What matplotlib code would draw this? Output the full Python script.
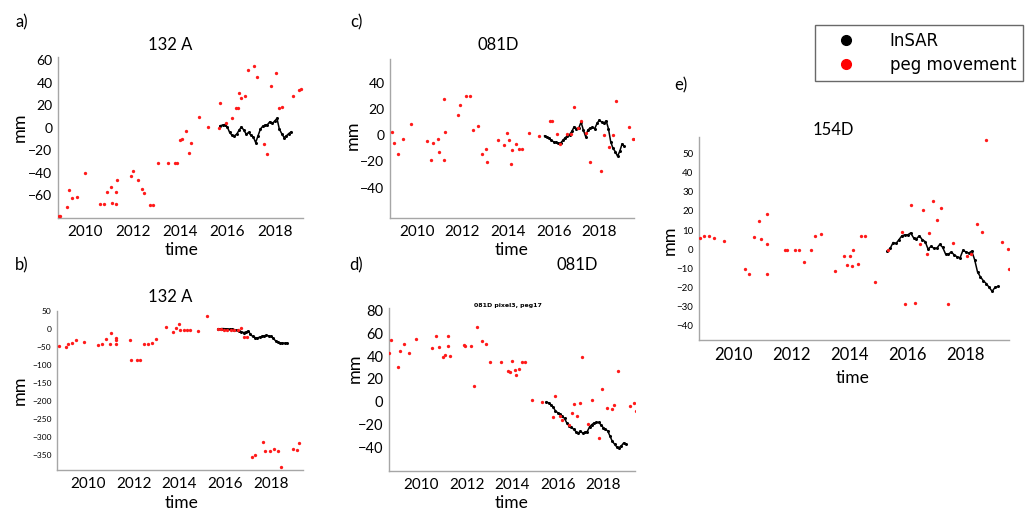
import numpy as np
import matplotlib
matplotlib.use("Agg")
import matplotlib.pyplot as plt
from matplotlib.lines import Line2D

plt.rcParams['font.family'] = ['Lato', 'DejaVu Sans']

# ---------------- data ----------------
# a) 132 A
a_peg_t = [2008.89, 2008.93, 2009.24, 2009.33, 2009.46, 2009.65, 2009.99, 2010.63, 2010.79,
           2010.90, 2011.08, 2011.15, 2011.32, 2011.32, 2011.36, 2011.94, 2012.01, 2012.22,
           2012.39, 2012.49, 2012.74, 2012.86, 2013.06, 2013.51, 2013.79, 2013.88, 2013.99,
           2014.10, 2014.24, 2014.38, 2014.47, 2014.79, 2015.18, 2015.67, 2015.71, 2015.94,
           2016.22, 2016.35, 2016.46, 2016.50, 2016.60, 2016.76, 2016.88, 2017.15, 2017.25,
           2017.54, 2017.68, 2017.85, 2018.06, 2018.19, 2018.31, 2018.79, 2019.03, 2019.10]
a_peg_mm = [-78.0, -78.0, -70.5, -55.0, -62.5, -61.5, -40.0, -68.0, -67.5, -56.5, -52.5, -66.5,
            -57.0, -67.5, -46.5, -42.5, -38.5, -46.5, -54.5, -58.0, -68.5, -68.5, -31.5, -31.5,
            -31.5, -31.5, -11.0, -10.0, -3.0, -22.0, -13.0, 10.0, 1.0, 0.0, 22.0, 4.0, 9.0,
            17.5, 17.5, 31.0, 26.5, 28.0, 51.5, 55.0, 45.0, -14.0, -23.0, 37.0, 49.0, 17.5,
            18.5, 28.0, 33.5, 34.5]
a_insar_mm = [2.0, 2.5, 3.0, 1.0, -4.0, -6.5, -7.0, -5.5, -2.0, 1.0, -2.0, -5.5, -4.0, -6.5,
              -8.0, -13.0, -7.0, -1.0, 1.5, 2.5, 3.0, 5.5, 4.0, 6.0, 8.5, -1.0, -5.0, -8.5,
              -7.0, -5.0, -3.5]
a_insar_t0 = 2015.7

# b) 132 A
b_peg_t = [2008.74, 2009.03, 2009.13, 2009.29, 2009.49, 2009.81, 2010.46, 2010.63, 2010.77,
           2010.96, 2011.03, 2011.21, 2011.21, 2011.24, 2011.84, 2011.89, 2012.14, 2012.29,
           2012.43, 2012.64, 2012.79, 2012.96, 2013.43, 2013.74, 2013.83, 2013.96, 2014.03,
           2014.21, 2014.34, 2014.46, 2014.79, 2015.20, 2015.67, 2015.80, 2015.95, 2016.10,
           2016.25, 2016.40, 2016.55, 2016.67, 2016.83, 2016.96, 2017.17, 2017.31, 2017.64,
           2017.74, 2017.96, 2018.14, 2018.29, 2018.43, 2018.96, 2019.14, 2019.21]
b_peg_mm = [-48, -51, -43, -39, -31, -36, -45, -41, -28, -41, -11, -41, -31, -25, -32, -87, -87,
            -87, -43, -41, -39, -29, 5, -9, 3, 14, -2, -2, -2, -2, -5, 35, -1, -1, -2, -2, -2,
            -2, -2, 3, -23, -23, -356, -351, -314, -339, -341, -334, -341, -385, -334, -336,
            -317]
b_insar_mm = [0.0, 0.5, 1.0, 0.5, 0.0, -1.0, 0.0, -2.0, -3.0, -5.0, -8.0, -10.0, -9.0, -6.0,
              -14.0, -21.0, -24.0, -25.0, -23.0, -21.0, -19.0, -18.0, -19.0, -21.0, -26.0,
              -33.0, -37.0, -39.0, -39.0, -40.0, -39.0]
b_insar_t0 = 2015.7

# c) 081D
c_peg_t = [2008.91, 2009.02, 2009.20, 2009.39, 2009.74, 2010.44, 2010.61, 2010.73, 2010.92,
           2010.99, 2011.20, 2011.20, 2011.24, 2011.82, 2011.90, 2012.16, 2012.34, 2012.45,
           2012.70, 2012.85, 2013.02, 2013.07, 2013.55, 2013.82, 2013.94, 2014.06, 2014.12,
           2014.19, 2014.34, 2014.47, 2014.60, 2014.93, 2015.34, 2015.84, 2015.93, 2016.16,
           2016.28, 2016.60, 2016.74, 2016.89, 2017.05, 2017.18, 2017.42, 2017.59, 2018.06,
           2018.20, 2018.44, 2018.58, 2018.73, 2019.28, 2019.49, 2019.55]
c_peg_mm = [2.3, -6.1, -14.1, -2.8, 8.6, -4.3, -19.2, -5.6, -2.8, -13.1, 27.3, -19.2, 2.8,
            15.4, 23.0, 29.8, 29.8, 4.0, 7.1, -14.1, -10.4, -20.5, -4.0, -7.8, 2.0, -3.5,
            -21.7, -11.6, -6.8, -10.4, -10.4, 1.5, -0.5, 11.1, 10.9, 1.0, -6.8, 1.0, 1.0, 21.2,
            5.3, 10.9, 1.5, -20.5, -27.5, 0.3, -9.1, 0.3, 26.0, 6.1, -3.0, -3.0]
c_insar_mm = [-0.5, -1.5, -2.5, -4.0, -5.0, -5.5, -6.0, -6.0, -4.0, -2.0, -0.5, 0.5, 3.0, 6.5,
              5.0, 5.5, 10.0, 4.0, -1.0, 4.0, 5.5, 6.0, 5.0, 9.0, 11.5, 10.0, 9.0, 11.0, 5.0,
              -5.0, -10.0, -12.5, -16.0, -12.0, -6.5, -8.5]
c_insar_t0 = 2015.6

# d) 081D pixel3, peg17
d_peg_t = [2008.58, 2008.68, 2008.97, 2009.07, 2009.24, 2009.44, 2009.78, 2010.46, 2010.65,
           2010.76, 2010.95, 2011.03, 2011.19, 2011.19, 2011.25, 2011.86, 2011.91, 2012.17,
           2012.31, 2012.47, 2012.69, 2012.83, 2013.04, 2013.49, 2013.82, 2013.89, 2014.01,
           2014.13, 2014.16, 2014.30, 2014.42, 2014.55, 2014.88, 2015.29, 2015.80, 2015.89,
           2016.12, 2016.21, 2016.51, 2016.65, 2016.71, 2016.83, 2016.98, 2017.09, 2017.34,
           2017.53, 2017.83, 2017.97, 2018.15, 2018.37, 2018.49, 2018.66, 2019.18, 2019.37,
           2019.44]
d_peg_mm = [43.0, 53.6, 30.7, 44.5, 50.3, 42.4, 54.7, 46.8, 57.7, 48.3, 38.9, 41.0, 57.7, 48.9,
            39.8, 49.8, 49.2, 48.9, 14.0, 65.3, 53.3, 50.3, 34.8, 34.5, 27.2, 25.8, 35.4, 27.5,
            23.7, 28.7, 34.5, 34.5, 1.2, -0.3, -13.2, 5.3, -12.3, -16.1, -20.5, -9.4, -1.8,
            -12.3, -0.9, 39.2, -19.0, 2.0, -31.3, 11.1, -5.3, -6.4, -2.9, 27.2, -3.5, -0.9,
            -7.9]
d_insar_mm = [0.0, -1.0, -2.5, -4.5, -8.0, -9.5, -10.5, -12.5, -14.5, -18.5, -21.0, -22.0,
              -24.0, -26.0, -27.5, -25.5, -27.5, -26.5, -26.0, -22.0, -20.0, -18.5, -18.0,
              -18.0, -20.0, -22.5, -24.0, -25.5, -30.0, -34.5, -37.0, -39.5, -40.0, -38.5,
              -36.0, -37.0]
d_insar_t0 = 2015.5

# e) 154D
e_peg_t = [2008.88, 2008.99, 2009.16, 2009.35, 2009.69, 2010.40, 2010.55, 2010.71, 2010.88,
           2010.95, 2011.15, 2011.17, 2011.18, 2011.80, 2011.86, 2012.12, 2012.27, 2012.43,
           2012.67, 2012.81, 2013.01, 2013.50, 2013.81, 2013.90, 2014.01, 2014.09, 2014.13,
           2014.30, 2014.40, 2014.55, 2014.87, 2015.31, 2015.80, 2015.89, 2016.10, 2016.25,
           2016.42, 2016.54, 2016.65, 2016.74, 2016.86, 2017.00, 2017.13, 2017.40, 2017.54,
           2018.02, 2018.19, 2018.37, 2018.54, 2018.69, 2019.23, 2019.43, 2019.49]
e_peg_mm = [6.1, 6.8, 7.0, 5.6, 4.2, -10.1, -13.2, 6.4, 14.6, 5.4, -13.2, 2.6, 18.6, -0.5,
            -0.5, -0.5, -0.5, -6.8, -0.2, 7.0, 8.2, -11.5, -3.5, -8.4, -3.5, -8.9, -0.2, -7.8,
            6.8, 6.8, -17.1, -0.2, 9.1, -28.9, 23.3, -27.9, 2.6, 20.7, -2.4, 8.7, 25.1, 15.5,
            21.6, -28.7, 3.1, -3.5, -2.3, 13.1, 8.9, 56.9, 3.7, 0.3, -10.6]
e_insar_mm = [-1.0, 0.5, 3.5, 3.0, 5.0, 7.0, 7.5, 7.5, 8.5, 6.0, 5.5, 7.0, 5.0, 4.0, 0.0, 1.5,
              0.5, 0.5, 2.5, 1.0, -2.5, -2.5, -1.5, -3.0, -4.0, -4.5, -0.5, -1.5, -2.0, -1.0,
              -5.5, -12.0, -14.5, -16.5, -18.0, -20.0, -22.0, -20.0, -19.5]
e_insar_t0 = 2015.3

insar_step = 0.1  # years between InSAR epochs
year_ticks = [2010, 2012, 2014, 2016, 2018]
series_labels = ["InSAR", "peg movement"]

# ---------------- figure ----------------
W, H = 1026, 509
fig = plt.figure(figsize=(W / 100, H / 100), dpi=100)


def rect(l, t, r, b):
    return [l / W, 1 - b / H, (r - l) / W, (b - t) / H]


def ftext(x, y, s, **kw):
    fig.text(x / W, 1 - y / H, s, ha=kw.pop('ha', 'center'), va=kw.pop('va', 'center'), **kw)


def panel(box, peg_t, peg_mm, insar_mm, t0, xlim, ylim, yticks, ysize, xsize):
    ax = fig.add_axes(rect(*box))
    ax.plot(peg_t, peg_mm, 'o', color='#ff1a1a', ms=2.4, mec='none', zorder=3)
    t = t0 + insar_step * np.arange(len(insar_mm))
    ax.plot(t, insar_mm, '-o', color='black', lw=1.1, ms=2.2, mec='none', zorder=2)
    ax.set_xlim(*xlim)
    ax.set_ylim(*ylim)
    ax.set_xticks(year_ticks)
    ax.set_yticks(yticks)
    ax.tick_params(length=0, labelsize=ysize, pad=4)
    ax.tick_params(axis='x', labelsize=xsize, pad=5)
    for s in ('top', 'right'):
        ax.spines[s].set_visible(False)
    for s in ('left', 'bottom'):
        ax.spines[s].set_color('#a6a6a6')
        ax.spines[s].set_linewidth(1.0)
    ax.set_facecolor('none')
    return ax


panel((58, 57, 303, 218), a_peg_t, a_peg_mm, a_insar_mm, a_insar_t0,
      (2008.85, 2019.2), (-80, 63), range(-60, 61, 20), 10, 11)
panel((57, 311, 303, 470), b_peg_t, b_peg_mm, b_insar_mm, b_insar_t0,
      (2008.65, 2019.4), (-393, 47), range(-350, 51, 50), 6, 11)
panel((390, 59, 634, 218), c_peg_t, c_peg_mm, c_insar_mm, c_insar_t0,
      (2008.83, 2019.52), (-63, 58), range(-40, 41, 20), 10, 11)
panel((389, 308, 635, 471), d_peg_t, d_peg_mm, d_insar_mm, d_insar_t0,
      (2008.58, 2019.4), (-60.5, 82), range(-40, 81, 20), 10.5, 11)
panel((699, 137, 1009, 340), e_peg_t, e_peg_mm, e_insar_mm, e_insar_t0,
      (2008.83, 2019.48), (-47.5, 58.7), range(-40, 51, 10), 7, 12)

# panel letters
for x, y, s in [(22, 22, 'a)'), (22, 265, 'b)'), (356, 22, 'c)'), (356, 265, 'd)'), (681, 85, 'e)')]:
    ftext(x, y, s, fontsize=12)

# titles
ftext(170, 45, '132 A', fontsize=12)
ftext(170, 297, '132 A', fontsize=12)
ftext(498, 45, '081D', fontsize=12)
ftext(577, 265, '081D', fontsize=12)
ftext(508, 305, '081D pixel3, peg17', fontsize=4.5, fontweight='bold', family='DejaVu Sans')
ftext(833, 130, '154D', fontsize=12)

# axis labels
for x, y in [(182, 250), (182, 503), (512, 250), (512, 503), (853, 378)]:
    ftext(x, y, 'time', fontsize=12.5)
for x, y in [(20, 127), (20, 390), (353, 135), (355, 368), (670, 240)]:
    ftext(x, y, 'mm', fontsize=13, rotation=90)

# legend
handles = [Line2D([], [], ls='none', marker='o', color='black', ms=7),
           Line2D([], [], ls='none', marker='o', color='#ff0000', ms=7)]
leg = fig.legend(handles, series_labels, loc='upper right',
                 bbox_to_anchor=(1023 / W, 1 - 25 / H), prop={'family': 'DejaVu Sans', 'size': 12},
                 frameon=True, fancybox=False, edgecolor='#444444', handlelength=3.0,
                 handletextpad=1.1, borderpad=0.4, labelspacing=0.4, borderaxespad=0)
leg.get_frame().set_linewidth(1.0)

fig.savefig('out.png', dpi=100)
